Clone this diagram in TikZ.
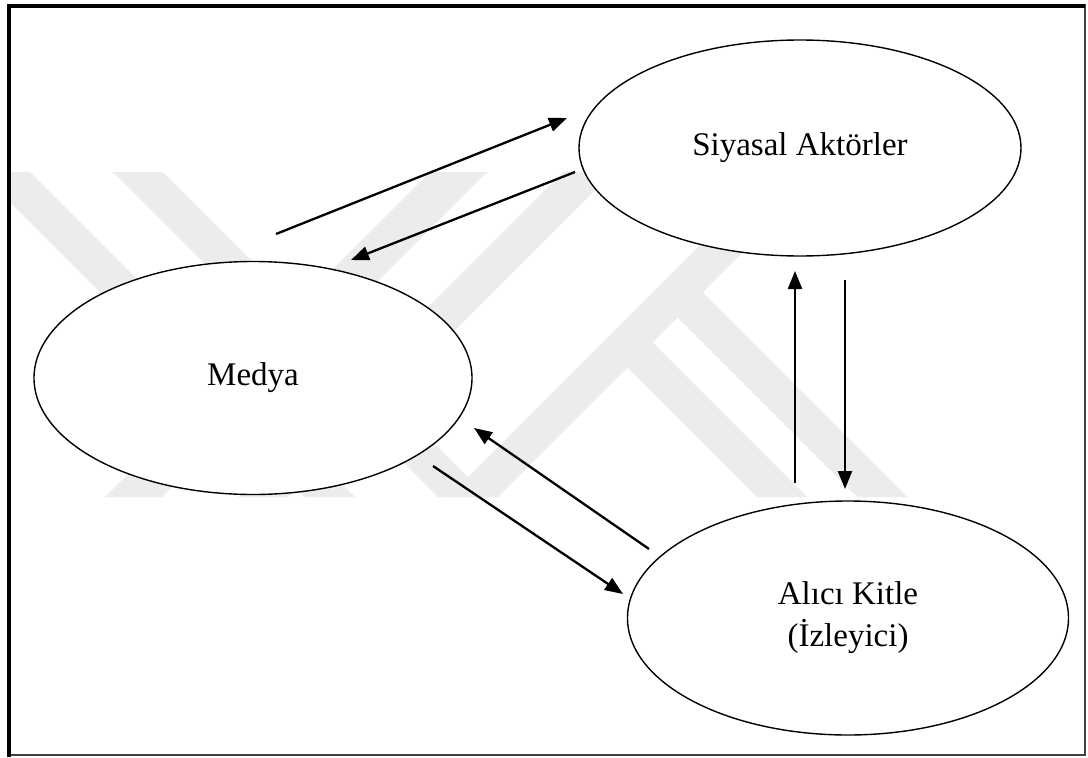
\documentclass[tikz,border=0pt]{standalone}
\usepackage{fontspec}
\setmainfont{Liberation Serif}
\usetikzlibrary{shapes.geometric,arrows.meta}
\definecolor{wm}{HTML}{ECECEC}
\begin{document}
\begin{tikzpicture}[x=1pt,y=-1pt,
  ell/.style={ellipse, draw, line width=1.4pt, fill=white, inner sep=0pt, align=center,
              font=\fontsize{33}{42}\selectfont},
  conn/.style={line width=2.3pt, -{Triangle[length=18pt,width=14pt]}},
  band/.style={fill=wm}]
\useasboundingbox (0,0) rectangle (1088,758);
\fill[white] (0,0) rectangle (1088,758);
% faint watermark
\begin{scope}
\clip (10,172) rectangle (1084,497);
\fill[band] (-20,172) -- (30,172) -- (355,497) -- (305,497) -- cycle;
\fill[band] (113,172) -- (163,172) -- (488,497) -- (438,497) -- cycle;
\fill[band] (430,172) -- (487,172) -- (162,497) -- (105,497) -- cycle;
\fill[band] (563,172) -- (613,172) -- (288,497) -- (238,497) -- cycle;
\fill[band] (773,172) -- (823,172) -- (498,497) -- (448,497) -- cycle;
\fill[band] (677.5,317.5) -- (702.5,292.5) -- (907,497) -- (857,497) -- cycle;
\fill[band] (627.5,367.5) -- (652.5,342.5) -- (807,497) -- (757,497) -- cycle;
\end{scope}
% frame
\draw[black!75, line width=1.5pt] (8,5) rectangle (1085,755);
\draw[line width=4pt] (8.5,757) -- (8.5,5.5) -- (1085,5.5);
% nodes
\node[ell, minimum width=442pt, minimum height=216pt] (sa) at (800,148) {Siyasal Aktörler};
\node[ell, minimum width=438pt, minimum height=233pt] (me) at (253,378) {Medya};
\node[ell, minimum width=441pt, minimum height=234pt] (ak) at (848,618) {Alıcı Kitle\\(İzleyici)};
% connector ends
\coordinate (a1s) at (276,234); \coordinate (a1e) at (567,118);
\coordinate (a2s) at (575,172); \coordinate (a2e) at (351,260);
\coordinate (a3s) at (649,549); \coordinate (a3e) at (474,428);
\coordinate (a4s) at (433,466); \coordinate (a4e) at (623,594);
\coordinate (a5s) at (795,483); \coordinate (a5e) at (795,271);
\coordinate (a6s) at (845,280); \coordinate (a6e) at (845,489);
\draw[conn] (a1s) -- (a1e);
\draw[conn] (a2s) -- (a2e);
\draw[conn] (a3s) -- (a3e);
\draw[conn] (a4s) -- (a4e);
\draw[conn] (a5s) -- (a5e);
\draw[conn] (a6s) -- (a6e);
\end{tikzpicture}
\end{document}
